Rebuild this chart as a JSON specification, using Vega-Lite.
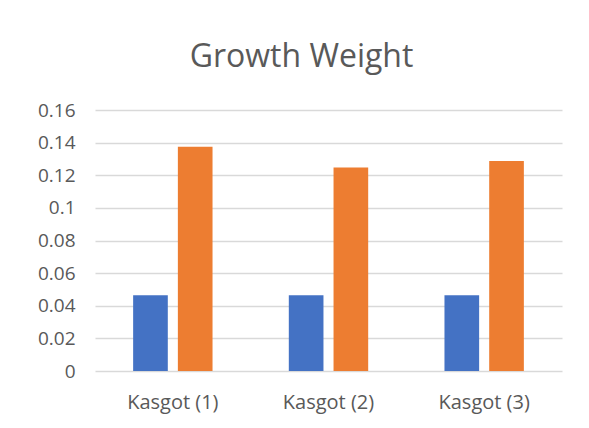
{
  "$schema": "https://vega.github.io/schema/vega-lite/v6.json",
  "width": 467,
  "height": 261,
  "autosize": {"type": "none"},
  "padding": {"left": 95, "top": 110, "right": 27, "bottom": 57},
  "background": "white",
  "title": {
    "text": "Growth Weight",
    "font": "Open Sans",
    "fontSize": 32,
    "fontWeight": "normal",
    "color": "#595959",
    "anchor": "middle",
    "baseline": "alphabetic",
    "dx": -27,
    "offset": 2
  },
  "data": {
    "values": [
      {"category": "Kasgot (1)", "series": "Series1", "value": 0.0464},
      {"category": "Kasgot (1)", "series": "Series2", "value": 0.1375},
      {"category": "Kasgot (2)", "series": "Series1", "value": 0.0464},
      {"category": "Kasgot (2)", "series": "Series2", "value": 0.1248},
      {"category": "Kasgot (3)", "series": "Series1", "value": 0.0464},
      {"category": "Kasgot (3)", "series": "Series2", "value": 0.1287}
    ]
  },
  "mark": {"type": "bar"},
  "encoding": {
    "x": {
      "field": "category",
      "type": "nominal",
      "scale": {"paddingInner": 0.49, "paddingOuter": 0.245},
      "axis": {
        "title": null,
        "labelAngle": 0,
        "domain": false,
        "ticks": false,
        "labelFont": "Open Sans",
        "labelFontSize": 20,
        "labelColor": "#595959",
        "labelPadding": 21
      }
    },
    "xOffset": {
      "field": "series",
      "type": "nominal",
      "scale": {"paddingInner": 0.225, "paddingOuter": 0}
    },
    "y": {
      "field": "value",
      "type": "quantitative",
      "scale": {"domain": [0, 0.16], "nice": false},
      "axis": {
        "title": null,
        "values": [0, 0.02, 0.04, 0.06, 0.08, 0.1, 0.12, 0.14, 0.16],
        "format": "~g",
        "domain": false,
        "ticks": false,
        "grid": true,
        "gridColor": "#D9D9D9",
        "gridWidth": 1.5,
        "labelFont": "Open Sans",
        "labelFontSize": 19,
        "labelColor": "#595959",
        "labelPadding": 20
      }
    },
    "color": {
      "field": "series",
      "type": "nominal",
      "scale": {"range": ["#4472C4", "#ED7D31"]},
      "legend": null
    }
  },
  "config": {"view": {"stroke": null}}
}
